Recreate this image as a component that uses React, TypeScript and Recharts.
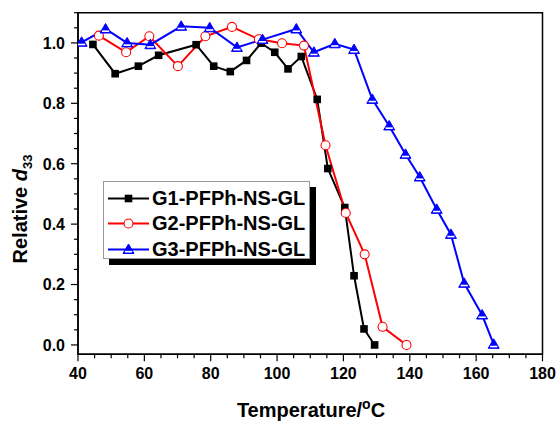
import { LineChart, Line, XAxis, YAxis, ReferenceArea, Label } from 'recharts';

// temperatures (°C) and relative d33
const g1Temp = [44.5, 51.2, 58.2, 64.3, 75.6, 80.9, 85.9, 90.8, 95.2, 99.3, 103.3, 107.3, 112.1, 115.3, 120.4, 123.2, 126.2, 129.4];
const g1Rel = [0.995, 0.898, 0.923, 0.959, 0.994, 0.923, 0.905, 0.942, 0.999, 0.969, 0.914, 0.955, 0.813, 0.584, 0.455, 0.229, 0.053, 0.0];

const g2Temp = [46.3, 54.5, 61.5, 70.1, 78.4, 86.4, 94.5, 101.5, 108.1, 114.6, 120.7, 126.4, 131.8, 139.0];
const g2Rel = [1.024, 0.969, 1.022, 0.923, 1.022, 1.053, 1.012, 0.999, 0.991, 0.661, 0.437, 0.3, 0.06, 0.0];

const g3Temp = [41.1, 48.3, 54.8, 61.8, 71.1, 79.7, 87.9, 95.6, 105.8, 111.1, 117.4, 123.2, 128.7, 133.8, 138.7, 143.0, 148.1, 152.4, 156.4, 161.8, 165.3];
const g3Rel = [1.002, 1.046, 1.0, 0.994, 1.055, 1.05, 0.985, 1.011, 1.046, 0.969, 0.997, 0.978, 0.813, 0.725, 0.631, 0.556, 0.449, 0.366, 0.204, 0.099, 0.002];

const seriesNames = ['G1-PFPh-NS-GL', 'G2-PFPh-NS-GL', 'G3-PFPh-NS-GL'];

const xTicks = [40, 45, 50, 55, 60, 65, 70, 75, 80, 85, 90, 95, 100, 105, 110, 115, 120, 125, 130, 135, 140, 145, 150, 155, 160, 165, 170, 175, 180];
const yTicks = [0, 0.05, 0.1, 0.15, 0.2, 0.25, 0.3, 0.35, 0.4, 0.45, 0.5, 0.55, 0.6, 0.65, 0.7, 0.75, 0.8, 0.85, 0.9, 0.95, 1.0, 1.05, 1.1];

const g1 = g1Temp.map((t, i) => ({ t, v: g1Rel[i] }));
const g2 = g2Temp.map((t, i) => ({ t, v: g2Rel[i] }));
const g3 = g3Temp.map((t, i) => ({ t, v: g3Rel[i] }));

const FONT = '"Liberation Sans", Arial, sans-serif';

function Square({ cx, cy }: { cx: number; cy: number }) {
  return <rect x={cx - 3.8} y={cy - 3.8} width={7.6} height={7.6} fill="#000" />;
}

function Circle({ cx, cy }: { cx: number; cy: number }) {
  return <circle cx={cx} cy={cy} r={4.5} fill="#fff" stroke="#ff0000" strokeWidth={1.1} />;
}

function Triangle({ cx, cy }: { cx: number; cy: number }) {
  return (
    <g>
      <polygon points={`${cx},${cy - 5.5} ${cx - 5.5},${cy + 4} ${cx + 5.5},${cy + 4}`} fill="#0000ff" stroke="#0000ff" strokeWidth={1} />
      <rect x={cx - 3.6} y={cy + 1.4} width={7.2} height={1.6} fill="#fff" />
    </g>
  );
}

const XTick = (props: any) => {
  const { x, y, payload } = props;
  const v = payload.value;
  const major = v % 20 === 0;
  return (
    <g>
      <line x1={x} y1={y} x2={x} y2={y + (major ? 7 : 4)} stroke="#000" strokeWidth={1.2} />
      {major && (
        <text x={x} y={y + 25} textAnchor="middle" fontFamily={FONT} fontWeight="bold" fontSize={16} fill="#000">
          {v}
        </text>
      )}
    </g>
  );
};

const YTick = (props: any) => {
  const { x, y, payload } = props;
  const v = payload.value;
  const major = Math.abs(v * 5 - Math.round(v * 5)) < 1e-6 && v <= 1.0001;
  return (
    <g>
      <line x1={x} y1={y} x2={x - (major ? 7 : 4)} y2={y} stroke="#000" strokeWidth={1.2} />
      {major && (
        <text x={x - 13} y={y + 5.8} textAnchor="end" fontFamily={FONT} fontWeight="bold" fontSize={16} fill="#000">
          {v.toFixed(1)}
        </text>
      )}
    </g>
  );
};

const XTitle = () => (
  <text x={311} y={417} textAnchor="middle" fontFamily={FONT} fontWeight="bold" fontSize={20} fill="#000">
    Temperature/
    <tspan fontSize={14} dy={-8}>o</tspan>
    <tspan dy={8}>C</tspan>
  </text>
);

const YTitle = () => (
  <text
    x={27}
    y={209}
    transform="rotate(-90 27 209)"
    textAnchor="middle"
    fontFamily={FONT}
    fontWeight="bold"
    fontSize={20}
    fill="#000"
  >
    Relative <tspan fontStyle="italic">d</tspan>
    <tspan fontSize={13} dy={5}>33</tspan>
  </text>
);

const legendMarks = [
  { color: '#000', mark: (x: number, y: number) => <Square cx={x} cy={y} /> },
  { color: '#ff0000', mark: (x: number, y: number) => <Circle cx={x} cy={y} /> },
  { color: '#0000ff', mark: (x: number, y: number) => <Triangle cx={x} cy={y} /> },
];

function LegendBox() {
  return (
    <div
      style={{
        position: 'absolute',
        left: 103,
        top: 181,
        width: 207,
        height: 78,
        border: '1px solid #999',
        background: '#fff',
        boxShadow: '6px 6px 0 #000',
        boxSizing: 'border-box',
      }}
    >
      {seriesNames.map((name, i) => (
        <div key={name} style={{ position: 'absolute', left: 0, top: 4 + i * 25.3, height: 25, width: 207 }}>
          <svg width={46} height={25} style={{ position: 'absolute', left: 3, top: 0 }}>
            <line x1={1} y1={12.5} x2={42} y2={12.5} stroke={legendMarks[i].color} strokeWidth={2} />
            {legendMarks[i].mark(21.5, 12.5)}
          </svg>
          <span
            style={{
              position: 'absolute',
              left: 48,
              top: 0,
              lineHeight: '25px',
              fontFamily: FONT,
              fontWeight: 'bold',
              fontSize: 20,
              color: '#000',
              whiteSpace: 'nowrap',
            }}
          >
            {name}
          </span>
        </div>
      ))}
    </div>
  );
}

export default function App() {
  return (
    <div style={{ position: 'absolute', left: 0, top: 0, width: 560, height: 422, background: '#fff', overflow: 'hidden' }}>
      <LineChart width={560} height={422} margin={{ top: 12.7, right: 17.5, left: 0, bottom: 0 }}>
        <XAxis
          dataKey="t"
          type="number"
          domain={[40, 180]}
          ticks={xTicks}
          interval={0}
          tickSize={0}
          tickMargin={0}
          tick={XTick}
          height={67.7}
          axisLine={{ stroke: '#000', strokeWidth: 1.5 }}
          allowDataOverflow
        >
          <Label content={XTitle} />
        </XAxis>
        <YAxis
          type="number"
          domain={[-0.031, 1.1]}
          ticks={yTicks}
          interval={0}
          tickSize={0}
          tickMargin={0}
          tick={YTick}
          width={78}
          axisLine={{ stroke: '#000', strokeWidth: 1.5 }}
          allowDataOverflow
        >
          <Label content={YTitle} />
        </YAxis>
        <ReferenceArea x1={40} x2={180} y1={-0.031} y2={1.1} fill="none" stroke="#000" strokeWidth={1.5} />
        <Line data={g1} dataKey="v" stroke="#000" strokeWidth={2} isAnimationActive={false} activeDot={false}
          dot={(p: any) => <Square key={`s${p.index}`} cx={p.cx} cy={p.cy} />} />
        <Line data={g2} dataKey="v" stroke="#ff0000" strokeWidth={2} isAnimationActive={false} activeDot={false}
          dot={(p: any) => <Circle key={`c${p.index}`} cx={p.cx} cy={p.cy} />} />
        <Line data={g3} dataKey="v" stroke="#0000ff" strokeWidth={2} isAnimationActive={false} activeDot={false}
          dot={(p: any) => <Triangle key={`t${p.index}`} cx={p.cx} cy={p.cy} />} />
      </LineChart>
      <LegendBox />
    </div>
  );
}
